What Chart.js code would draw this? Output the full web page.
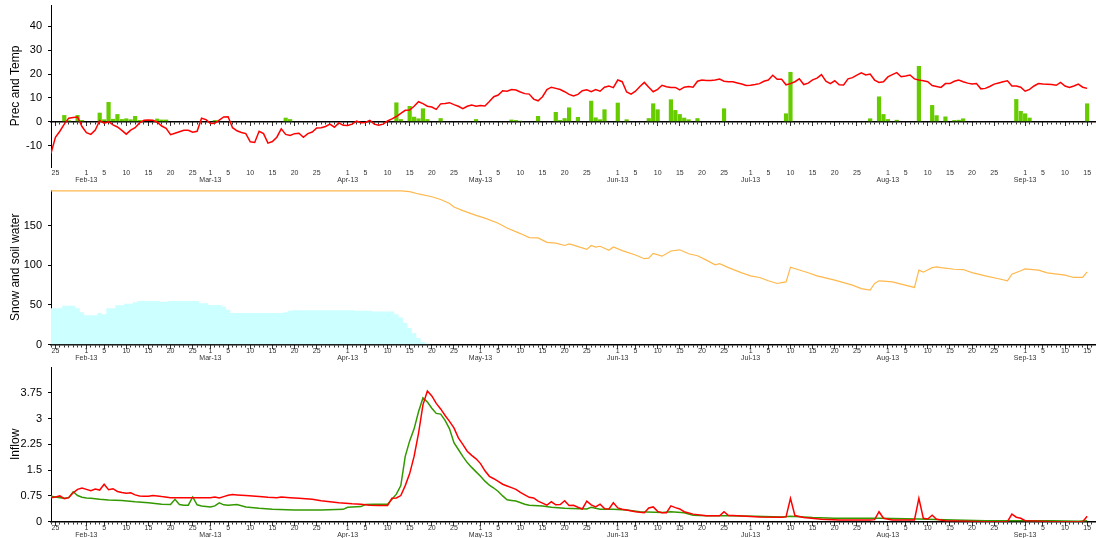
<!DOCTYPE html>
<html>
<head>
<meta charset="utf-8">
<script src="https://cdn.jsdelivr.net/npm/chart.js@4.4.1/dist/chart.umd.min.js"></script>
<style>
  html, body { margin: 0; padding: 0; background: #fff; }
  #wrap { position: relative; width: 1096px; height: 538px; overflow: hidden; }
  canvas { position: absolute; left: 0; }
</style>
</head>
<body>
<div id="wrap">
  <canvas id="c1" width="1096" height="185" style="top:0"></canvas>
  <canvas id="c2" width="1096" height="177" style="top:185px"></canvas>
  <canvas id="c3" width="1096" height="176" style="top:362px"></canvas>
</div>
<script>
// day index 0 = 24 Jan 2013, last = 15 Sep 2013
const X_MIN = 0, X_MAX = 236;
const labelDays = [1, 5, 10, 15, 20, 25];
const monthNames = ['Jan', 'Feb', 'Mar', 'Apr', 'May', 'Jun', 'Jul', 'Aug', 'Sep', 'Oct', 'Nov', 'Dec'];

const tempTicks = [-10, 0, 10, 20, 30, 40];
const storeTicks = [0, 50, 100, 150];
const inflowTicks = [0, 0.75, 1.5, 2.25, 3, 3.75];

// precipitation (only wet days)
const precDays = [3,4,6,7,11,12,13,14,15,16,17,18,19,20,24,25,26,37,53,54,78,79,81,82,83,84,85,88,96,104,105,106,110,114,115,116,117,119,122,123,124,125,128,130,135,136,137,140,141,142,143,144,146,152,166,167,185,187,188,189,191,196,199,200,202,204,205,206,218,219,220,221,234];
const precVals = [2.8,0.6,2.8,0.7,3.8,1.0,8.3,1.2,3.2,1.1,1.4,1.0,2.4,0.7,1.3,0.9,0.9,0.7,1.7,1.1,8.1,1.1,6.6,2.1,1.4,5.6,1.1,1.5,1.1,0.9,0.7,0.4,2.4,4.1,0.7,1.5,6.0,2.0,8.8,1.8,1.0,5.2,8.0,1.0,1.5,7.7,5.2,9.4,4.9,3.2,1.7,1.0,1.5,5.6,3.5,20.9,1.4,10.6,3.2,1.1,0.8,23.4,7.0,2.7,2.2,0.7,0.8,1.4,9.5,4.5,3.5,1.7,7.7];

// daily temperature
const tempVals = [
  -13.3,-6.5,-4,-1,1.5,1.8,2,-2,-4.6,-5.3,
  -3.5,0.5,-0.6,0,-1.3,-2.2,-3.6,-5.2,-3.5,-2.5,
  -0.5,0.6,0.7,0.6,-0.2,-1.8,-2.8,-5.4,-4.8,-4.2,
  -3.6,-3.6,-4.4,-4,1.5,0.9,-0.7,-0.6,0.7,2,
  2.1,-2.5,-3.8,-4.5,-5,-8.4,-8.7,-4,-5,-9,
  -8.3,-6.5,-3,-5.3,-5.8,-5,-4.8,-6.5,-5,-4.3,
  -2.6,-2.5,-2,-1,-2.3,-0.5,-1.5,-1.6,-1,0.3,
  -0.4,-0.3,0.6,-1,-1.5,-1,0.3,1.2,2.2,3.5,
  4.8,4.9,6.5,8.4,7.6,6.5,6.2,5.2,7.5,7.7,
  8,7.2,6.5,5.5,6.5,7,6.5,6.8,6.6,8.5,
  10.5,11.2,13,12.8,13.5,13.3,12.5,11.8,11.6,9.5,
  8.8,10.5,13.5,14.5,14,13.5,12.6,11.5,10.8,11.5,
  13,13.4,12.6,13.5,12.8,14.5,15,14.3,17.5,16.8,
  12.5,11.6,12.8,14.8,16.5,14.5,12.6,13.6,15.3,14.7,
  14.4,14.4,13.4,14.5,14.8,14.5,17,17.5,17.3,17.3,
  17.5,17.9,17,16.8,16.8,16.3,15.8,15.2,15.3,15.6,
  16,17,17.5,19.5,17.8,17.8,15.5,16,16.8,18,
  15.6,16.2,17.6,18.3,19.8,17,16,17.2,15.5,15.4,
  18,18.5,19.6,20.5,19.6,20,17.5,16.5,16.8,18.8,
  19.8,20.6,18.9,19.2,19.6,18,17.5,17.2,16.8,15.2,
  14.8,14.4,16,16,17,17.5,16.8,16.2,15.8,16,
  13.8,14,14.8,15.8,16.3,16.8,17.2,15,15,14.5,
  12.8,13.6,15,16,15.8,15.7,15.6,15.3,16.5,15,
  14.4,15,15.8,14.5,14
];

// daily snow storage (until melted)
const snowVals = [
  45.8,45.8,45.8,48.8,48.8,48.8,45.8,40.8,37,37,
  37,39.6,38.3,45.8,45.8,49.6,49.6,51.3,51.3,53.3,
  55,55,55,55,55,54,54,55,55,55,
  55,55,55,55,52,52,50,50,50,48,
  43.8,39.6,39.6,39.6,39.6,39.6,39.6,39.6,39.6,39.6,
  39.6,39.6,39.6,40.8,42.5,43.3,43.3,43.3,43.3,43.3,
  43.3,43.3,43.3,43.3,43.3,43.3,43.3,43.3,43.3,42.5,
  42.5,42.5,42.5,41.7,41.7,41.7,41.7,41.7,38.3,34,
  27,20.8,14.6,8.3,3.3,1.2,0
];

// soil water
const soilDays = [0,79,81,83,86,88,90,91,93,96,98,101,103,106,108,110,112,114,116,117,118,121,122,123,124,126,127,129,132,134,135,136,138,140,142,144,146,148,150,151,153,156,158,160,162,164,165,166,167,169,171,173,177,181,183,185,186,187,188,190,192,195,196,197,199,200,201,204,206,208,211,214,216,217,219,220,223,225,229,231,233,234];
const soilVals = [194,194,193,190,186.5,183,178,173.5,169,163,159.5,153,147,140,135,134.5,129,128,125,127,125.5,120,125,123,124,119,123,118.5,113,108.3,109,115,111.5,118,119.5,114.5,112,106.5,100.5,102,97,90.4,86.7,84.6,80.4,77,78,79,97.5,94,90.5,86.7,81.3,75,70.5,68.8,77,80.4,80,79,76.3,72,93.8,91.3,97,98,97,95,94.6,90.8,86.7,83,80.4,88.8,93,95.4,93.8,90.4,87.5,84.6,84.6,91.7];

// inflow, red series
const redDays = [0,1,2,3,4,5,6,7,8,9,10,11,12,13,14,15,16,17,18,19,20,21,22,23,24,25,27,36,37,38,39,40,41,42,44,47,49,51,52,54,56,59,61,63,65,68,70,72,74,76,77,78,79,80,81,82,83,84,85,86,87,88,89,90,91,92,93,94,95,96,97,98,99,100,101,102,103,104,105,106,107,108,109,110,111,112,113,114,115,116,117,118,119,120,121,122,123,124,125,126,127,128,129,130,132,134,135,136,137,138,139,140,141,142,143,145,148,151,152,153,154,157,160,165,166,167,168,170,174,178,184,185,186,187,188,190,194,195,196,197,198,199,200,202,211,216,217,218,219,220,226,233,234];
const redVals = [0.70,0.72,0.75,0.67,0.70,0.84,0.94,0.98,0.94,0.90,0.95,0.92,1.09,0.93,0.96,0.88,0.85,0.83,0.84,0.78,0.75,0.74,0.74,0.76,0.75,0.73,0.70,0.70,0.72,0.69,0.73,0.77,0.79,0.78,0.76,0.73,0.71,0.70,0.72,0.70,0.68,0.65,0.61,0.58,0.55,0.52,0.51,0.48,0.47,0.47,0.68,0.69,0.76,1.05,1.4,1.9,2.57,3.4,3.8,3.66,3.44,3.28,3.09,2.92,2.73,2.44,2.25,2.05,1.93,1.83,1.69,1.48,1.32,1.25,1.17,1.09,1.04,0.99,0.94,0.85,0.78,0.71,0.69,0.60,0.54,0.48,0.58,0.49,0.50,0.61,0.47,0.48,0.42,0.37,0.60,0.49,0.43,0.51,0.38,0.37,0.55,0.40,0.36,0.34,0.29,0.26,0.40,0.43,0.30,0.26,0.26,0.46,0.41,0.37,0.29,0.22,0.17,0.17,0.29,0.18,0.18,0.16,0.14,0.13,0.14,0.68,0.18,0.12,0.07,0.05,0.05,0.05,0.06,0.29,0.10,0.05,0.05,0.05,0.68,0.10,0.08,0.19,0.07,0.03,0.00,0.00,0.22,0.13,0.10,0.03,0.00,0.00,0.16];

// inflow, green series
const greenDays = [0,1,2,3,4,5,6,7,8,9,11,13,16,19,22,25,27,28,29,30,31,32,33,34,36,37,38,39,40,42,44,47,50,55,61,66,67,70,71,73,76,77,78,79,80,81,82,83,84,85,86,87,88,89,90,91,92,93,94,95,96,97,98,99,100,101,102,103,104,105,107,108,111,113,116,121,122,124,127,130,133,138,140,143,145,148,153,159,165,167,172,177,187,196,204,211,226,232,234];
const greenVals = [0.74,0.72,0.70,0.68,0.70,0.87,0.76,0.71,0.69,0.68,0.65,0.63,0.62,0.58,0.55,0.51,0.50,0.65,0.50,0.48,0.48,0.72,0.49,0.46,0.43,0.46,0.55,0.49,0.48,0.50,0.43,0.39,0.36,0.34,0.34,0.36,0.42,0.44,0.50,0.51,0.51,0.65,0.80,1.05,1.9,2.35,2.7,3.2,3.6,3.48,3.3,3.15,3.13,2.95,2.7,2.3,2.1,1.9,1.72,1.58,1.45,1.32,1.18,1.06,0.98,0.88,0.75,0.64,0.62,0.60,0.51,0.48,0.46,0.42,0.39,0.37,0.42,0.36,0.36,0.34,0.29,0.27,0.29,0.26,0.19,0.17,0.17,0.16,0.14,0.16,0.12,0.10,0.10,0.08,0.05,0.03,0.03,0.01,0.03];

Chart.defaults.font.family = '"Liberation Sans", Arial, sans-serif';

const dateOf = i => new Date(2013, 0, 24 + i);
const allDays = [];
for (let i = X_MIN; i <= X_MAX; i++) allDays.push(i);
const majorDays = allDays.filter(i => labelDays.includes(dateOf(i).getDate()));

function dayLabel(v) {
  const d = dateOf(v), n = d.getDate();
  return n === 1 ? [String(n), monthNames[d.getMonth()] + '-13'] : String(n);
}
const pts = (days, vals) => days.map((d, k) => ({ x: d, y: vals[k] }));
const daily = vals => vals.map((v, i) => ({ x: i, y: v }));

function xScales(axisH) {
  return {
    x: {
      type: 'linear', min: X_MIN, max: X_MAX, offset: false, position: 'bottom',
      grid: { display: false, drawTicks: false }, border: { display: false },
      afterBuildTicks: s => { s.ticks = majorDays.map(v => ({ value: v })); },
      afterFit: s => { s.height = axisH; s.paddingLeft = 0; s.paddingRight = 0; },
      ticks: { autoSkip: false, maxRotation: 0, padding: 3, color: '#333', font: { size: 7, lineHeight: 1 }, callback: dayLabel }
    },
    xz: {
      type: 'linear', axis: 'x', min: X_MIN, max: X_MAX, offset: false, position: { y: 0 }, z: 1,
      grid: { drawOnChartArea: false, tickLength: 2, tickColor: '#333' },
      border: { display: true, color: '#000', width: 1.5 },
      ticks: { display: false },
      afterBuildTicks: s => { s.ticks = allDays.map(v => ({ value: v })); }
    },
    xm: {
      type: 'linear', axis: 'x', min: X_MIN, max: X_MAX, offset: false, position: { y: 0 }, z: 1,
      grid: { drawOnChartArea: false, tickLength: 4, tickColor: '#333' },
      border: { display: false },
      ticks: { display: false },
      afterBuildTicks: s => { s.ticks = majorDays.map(v => ({ value: v })); }
    }
  };
}

function yScale(min, max, tickVals, title) {
  return {
    type: 'linear', min: min, max: max, position: 'left',
    afterBuildTicks: s => { s.ticks = tickVals.map(v => ({ value: v })); },
    afterFit: s => { s.width = 51; s.paddingTop = 0; s.paddingBottom = 0; },
    grid: { drawOnChartArea: false, tickLength: 3, tickColor: '#000' },
    border: { color: '#000', width: 1 },
    ticks: { padding: 6, color: '#000', font: { size: 11 }, callback: v => String(v) },
    title: { display: true, text: title, color: '#000', font: { size: 12 }, padding: { top: 8, bottom: 0 } }
  };
}

function baseOptions(scales) {
  return {
    responsive: false, animation: false,
    layout: { padding: { top: 5, left: 0, right: 0, bottom: 0 } },
    plugins: { legend: { display: false }, tooltip: { enabled: false } },
    elements: { point: { radius: 0 }, line: { tension: 0 } },
    scales: scales
  };
}

// Panel 1: precipitation and temperature
new Chart(document.getElementById('c1'), {
  type: 'line',
  data: {
    datasets: [
      { type: 'line', data: daily(tempVals), borderColor: '#ff0000', borderWidth: 1.5, order: 0, xAxisID: 'x', yAxisID: 'y' },
      { type: 'bar', data: pts(precDays, precVals), backgroundColor: '#66cc00', barPercentage: 0.95, categoryPercentage: 1, order: 1, xAxisID: 'x', yAxisID: 'y' }
    ]
  },
  options: baseOptions(Object.assign({ y: yScale(-19, 49, tempTicks, 'Prec and Temp') }, xScales(18)))
});

// Panel 2: snow and soil water
new Chart(document.getElementById('c2'), {
  type: 'line',
  data: {
    datasets: [
      { data: pts(soilDays, soilVals), borderColor: '#ffb84d', borderWidth: 1.2, order: 0, xAxisID: 'x', yAxisID: 'y' },
      { data: daily(snowVals), stepped: 'middle', fill: 'origin', backgroundColor: '#ccffff', borderWidth: 0, order: 1, xAxisID: 'x', yAxisID: 'y' }
    ]
  },
  options: baseOptions(Object.assign({ y: yScale(0, 195, storeTicks, 'Snow and soil water') }, xScales(17.5)))
});

// Panel 3: inflow
new Chart(document.getElementById('c3'), {
  type: 'line',
  data: {
    datasets: [
      { data: pts(redDays, redVals), borderColor: '#ff0000', borderWidth: 1.5, order: 0, xAxisID: 'x', yAxisID: 'y' },
      { data: pts(greenDays, greenVals), borderColor: '#339900', borderWidth: 1.5, order: 1, xAxisID: 'x', yAxisID: 'y' }
    ]
  },
  options: baseOptions(Object.assign({ y: yScale(0, 4.5, inflowTicks, 'Inflow') }, xScales(16.3)))
});
</script>
</body>
</html>
